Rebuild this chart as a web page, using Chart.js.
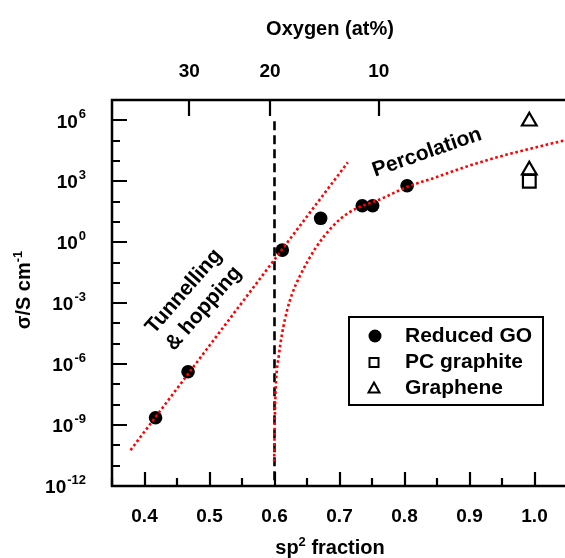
<!DOCTYPE html>
<html lang="en">
<head>
<meta charset="UTF-8">
<title>Conductivity vs sp2 fraction</title>
<script src="https://cdn.jsdelivr.net/npm/chart.js"></script>
<style>
  html, body { margin: 0; padding: 0; background: #fff; overflow: hidden; }
  #wrap { width: 567px; height: 558px; position: relative; }
</style>
</head>
<body>
<div id="wrap"><canvas id="chart" width="567" height="558"></canvas></div>
<script>
// Reduced GO films: sp2 fraction and conductivity (S/cm)
var rgoSp2 = [0.417, 0.467, 0.612, 0.671, 0.735, 0.751, 0.804];
var rgoSigma = [2.3e-9, 4.2e-7, 0.41, 15, 62, 62, 600];

// polycrystalline graphite and graphene reference values
var graphiteSp2 = [0.992];
var graphiteSigma = [1.0e3];
var grapheneSp2 = [0.992, 0.992];
var grapheneSigma = [9e5, 3.5e3];

// tunnelling / hopping fit, straight on the log scale
var tunnelSp2 = [0.3785, 0.7128];
var tunnelSigma = [5.8e-11, 8.5e3];

// percolation fit
var percSp2 = [0.5995, 0.6005, 0.6025, 0.6066, 0.6117, 0.6194, 0.627, 0.640, 0.663,
               0.689, 0.714, 0.766, 0.804, 0.848, 0.894, 0.945, 0.996, 1.05];
var percSigma = [1.6e-11, 2.5e-9, 1.6e-7, 2.5e-6, 3.2e-5, 4.5e-4, 2.8e-3, 2.5e-2, 0.5,
                 5.8, 28, 145, 525, 1550, 5100, 1.6e4, 4.2e4, 1.1e5];

// percolation threshold
var thresholdSp2 = [0.6, 0.6];
var thresholdSigma = [9e5, 1e-12];

// axis ticks
var sp2Major = [0.4, 0.5, 0.6, 0.7, 0.8, 0.9, 1.0];
var sp2MajorLabels = ['0.4', '0.5', '0.6', '0.7', '0.8', '0.9', '1.0'];
var sp2Minor = [0.35, 0.45, 0.55, 0.65, 0.75, 0.85, 0.95, 1.05];
var oxygenTickSp2 = [0.469, 0.593, 0.7605];
var oxygenLabels = ['30', '20', '10'];
var sigmaDecades = [-12, -11, -10, -9, -8, -7, -6, -5, -4, -3, -2, -1, 0, 1, 2, 3, 4, 5, 6, 7];
var sigmaLabelExps = [6, 3, 0, -3, -6, -9, -12];

function pairs(xs, ys) {
    return xs.map(function (x, i) { return { x: x, y: ys[i] }; });
}

var FONT = '"Liberation Sans", Arial, sans-serif';
var RED = '#ff0000';

// frame, inward ticks, labels, annotations and the legend box
var decorations = {
    id: 'decorations',
    afterDraw: function (chart) {
        var ctx = chart.ctx, a = chart.chartArea;
        var xs = chart.scales.x, xt = chart.scales.xTop, ys = chart.scales.y;
        ctx.save();
        ctx.strokeStyle = '#000';
        ctx.fillStyle = '#000';

        // frame: top, left, bottom
        ctx.lineWidth = 2.5;
        ctx.beginPath();
        ctx.moveTo(a.right + 3, a.top);
        ctx.lineTo(a.left, a.top);
        ctx.lineTo(a.left, a.bottom);
        ctx.lineTo(a.right + 3, a.bottom);
        ctx.stroke();

        ctx.lineWidth = 2.2;
        ctx.beginPath();
        sigmaDecades.forEach(function (e) {
            var y = Math.round(ys.getPixelForValue(Math.pow(10, e)));
            var len = (e % 3 === 0) ? 15 : 8;
            ctx.moveTo(a.left, y);
            ctx.lineTo(a.left + len, y);
        });
        sp2Major.forEach(function (v) {
            var x = Math.round(xs.getPixelForValue(v));
            ctx.moveTo(x, a.bottom);
            ctx.lineTo(x, a.bottom - 14);
        });
        sp2Minor.forEach(function (v) {
            var x = Math.round(xs.getPixelForValue(v));
            ctx.moveTo(x, a.bottom);
            ctx.lineTo(x, a.bottom - 8);
        });
        oxygenTickSp2.forEach(function (v) {
            var x = Math.round(xt.getPixelForValue(v));
            ctx.moveTo(x, a.top);
            ctx.lineTo(x, a.top + 16);
        });
        ctx.stroke();

        // tick labels
        ctx.font = 'bold 19px ' + FONT;
        ctx.textAlign = 'center';
        ctx.textBaseline = 'middle';
        sp2Major.forEach(function (v, i) {
            ctx.fillText(sp2MajorLabels[i], xs.getPixelForValue(v), 517);
        });
        oxygenTickSp2.forEach(function (v, i) {
            ctx.fillText(oxygenLabels[i], xt.getPixelForValue(v), 72);
        });

        ctx.textAlign = 'left';
        sigmaLabelExps.forEach(function (e) {
            var y = ys.getPixelForValue(Math.pow(10, e));
            ctx.font = 'bold 19px ' + FONT;
            var wb = ctx.measureText('10').width;
            ctx.font = 'bold 13px ' + FONT;
            var es = String(e);
            var we = ctx.measureText(es).width;
            var x0 = 86 - wb - we - 1;
            ctx.font = 'bold 19px ' + FONT;
            ctx.fillText('10', x0, y + 2);
            ctx.font = 'bold 13px ' + FONT;
            ctx.fillText(es, x0 + wb + 1, y - 6);
        });

        // axis titles
        ctx.font = 'bold 20px ' + FONT;
        ctx.textAlign = 'center';
        ctx.fillText('Oxygen (at%)', 330, 29);

        ctx.textBaseline = 'alphabetic';
        ctx.textAlign = 'left';
        var t1 = 'sp', t2 = '2', t3 = ' fraction';
        ctx.font = 'bold 20px ' + FONT;
        var w1 = ctx.measureText(t1).width, w3 = ctx.measureText(t3).width;
        ctx.font = 'bold 13px ' + FONT;
        var w2 = ctx.measureText(t2).width;
        var bx = 330 - (w1 + w2 + w3) / 2;
        ctx.font = 'bold 20px ' + FONT;
        ctx.fillText(t1, bx, 554);
        ctx.fillText(t3, bx + w1 + w2, 554);
        ctx.font = 'bold 13px ' + FONT;
        ctx.fillText(t2, bx + w1, 546);

        ctx.save();
        ctx.translate(29.5, 290);
        ctx.rotate(-Math.PI / 2);
        ctx.font = 'bold 20px ' + FONT;
        var ya = 'σ/S cm', yb = '-1';
        var wa = ctx.measureText(ya).width;
        ctx.font = 'bold 13px ' + FONT;
        var wbb = ctx.measureText(yb).width;
        var sx = -(wa + wbb) / 2;
        ctx.font = 'bold 20px ' + FONT;
        ctx.fillText(ya, sx, 0);
        ctx.font = 'bold 13px ' + FONT;
        ctx.fillText(yb, sx + wa, -8);
        ctx.restore();

        // regime annotations
        ctx.font = 'bold 21px ' + FONT;
        ctx.textAlign = 'center';
        ctx.textBaseline = 'middle';
        ctx.save();
        ctx.translate(427, 152.5);
        ctx.rotate(-19.2 * Math.PI / 180);
        ctx.fillText('Percolation', 0, 0);
        ctx.restore();

        ctx.save();
        ctx.translate(184, 291.5);
        ctx.rotate(-49 * Math.PI / 180);
        ctx.fillText('Tunnelling', 0, 0);
        ctx.fillText('& hopping', 0, 26);
        ctx.restore();

        // legend
        ctx.lineWidth = 2;
        ctx.strokeRect(349, 317, 194, 88);
        ctx.beginPath();
        ctx.arc(375, 336, 6.5, 0, Math.PI * 2);
        ctx.fill();
        ctx.lineWidth = 2;
        ctx.strokeRect(369.5, 358, 9, 9);
        ctx.beginPath();
        ctx.moveTo(374, 382.5);
        ctx.lineTo(379.5, 392.5);
        ctx.lineTo(368.5, 392.5);
        ctx.closePath();
        ctx.stroke();
        ctx.font = 'bold 21px ' + FONT;
        ctx.textAlign = 'left';
        ctx.fillText('Reduced GO', 405, 336);
        ctx.fillText('PC graphite', 405, 362.5);
        ctx.fillText('Graphene', 405, 388);

        ctx.restore();
    }
};

var dotted = {
    showLine: true, pointRadius: 0, borderColor: RED, borderWidth: 2.6,
    borderDash: [2.6, 2.6], borderCapStyle: 'butt', fill: false
};

new Chart(document.getElementById('chart'), {
    type: 'scatter',
    data: {
        datasets: [
            Object.assign({ label: 'Tunnelling fit', data: pairs(tunnelSp2, tunnelSigma) }, dotted),
            Object.assign({ label: 'Percolation fit', data: pairs(percSp2, percSigma),
                            cubicInterpolationMode: 'monotone' }, dotted),
            {
                label: 'Threshold', data: pairs(thresholdSp2, thresholdSigma),
                showLine: true, pointRadius: 0, borderColor: '#000', borderWidth: 2.6,
                borderDash: [9, 5], borderCapStyle: 'butt'
            },
            {
                label: 'Reduced GO', data: pairs(rgoSp2, rgoSigma),
                pointStyle: 'circle', pointRadius: 6.8, backgroundColor: '#000',
                borderColor: '#000', borderWidth: 0
            },
            {
                label: 'PC graphite', data: pairs(graphiteSp2, graphiteSigma),
                pointStyle: 'rect', pointRadius: 9, backgroundColor: '#fff',
                borderColor: '#000', borderWidth: 2.2
            },
            {
                label: 'Graphene', data: pairs(grapheneSp2, grapheneSigma),
                pointStyle: 'triangle', pointRadius: 8.5, backgroundColor: '#fff',
                borderColor: '#000', borderWidth: 2.2
            }
        ]
    },
    options: {
        responsive: false,
        animation: false,
        events: [],
        layout: { padding: 0, autoPadding: false },
        plugins: { legend: { display: false }, tooltip: { enabled: false } },
        scales: {
            x: {
                type: 'linear', position: 'bottom', min: 0.35, max: 1.05,
                ticks: { display: false }, grid: { display: false }, border: { display: false },
                afterBuildTicks: function (s) {
                    s.ticks = sp2Major.concat(sp2Minor).map(function (v) { return { value: v }; });
                },
                afterFit: function (s) { s.height = 72; }
            },
            xTop: {
                type: 'linear', position: 'top', min: 0.35, max: 1.05,
                ticks: { display: false }, grid: { display: false }, border: { display: false },
                afterBuildTicks: function (s) {
                    s.ticks = oxygenTickSp2.map(function (v) { return { value: v }; });
                },
                afterFit: function (s) { s.height = 100; }
            },
            y: {
                type: 'logarithmic', position: 'left', min: 1e-12, max: 1e7,
                ticks: { display: false }, grid: { display: false }, border: { display: false },
                afterFit: function (s) { s.width = 112; }
            }
        }
    },
    plugins: [decorations]
});
</script>
</body>
</html>
